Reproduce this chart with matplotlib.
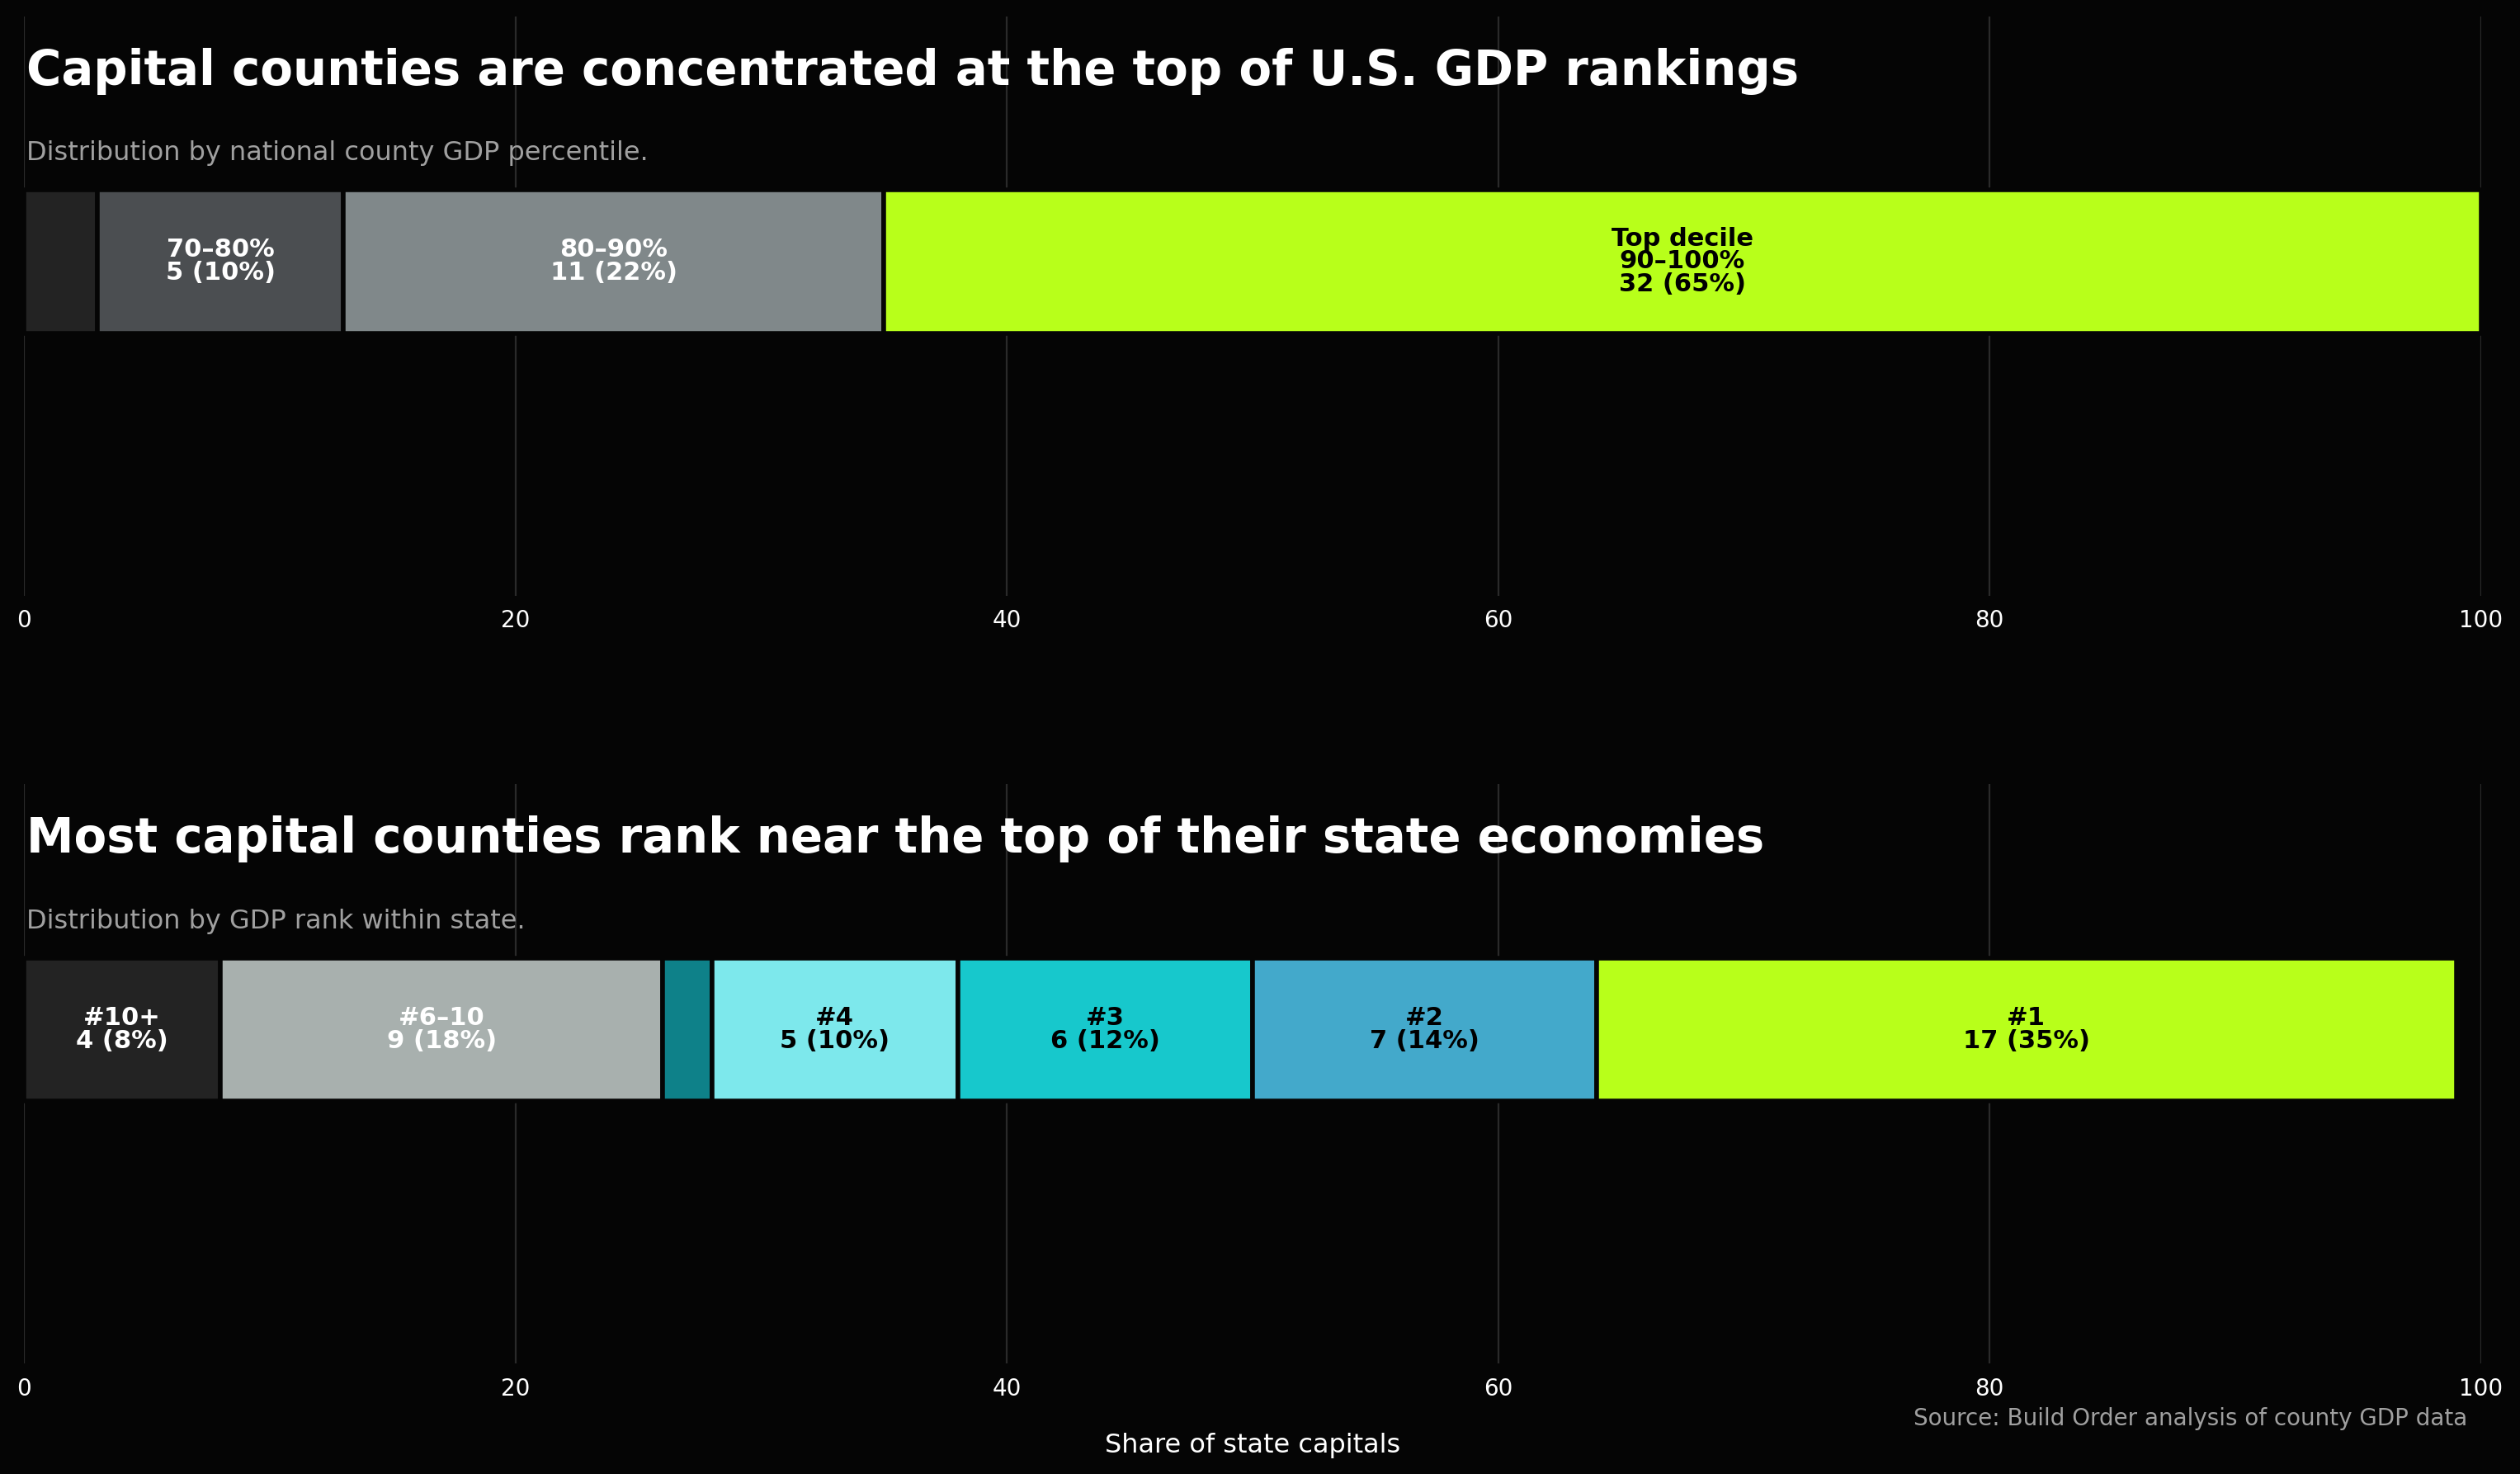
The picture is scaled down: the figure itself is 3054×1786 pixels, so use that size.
import matplotlib.pyplot as plt

# top panel: national county GDP percentile (rounded shares, %)
top_pcts = [3, 10, 22, 65]
top_labels = ["", "70–80%\n5 (10%)", "80–90%\n11 (22%)", "Top decile\n90–100%\n32 (65%)"]
top_colors = ["#232323", "#4b4e51", "#80888a", "#b8ff1a"]
top_text = ["white", "white", "white", "black"]

# bottom panel: GDP rank within state (rounded shares, %)
bot_pcts = [8, 18, 2, 10, 12, 14, 35]
bot_labels = ["#10+\n4 (8%)", "#6–10\n9 (18%)", "", "#4\n5 (10%)", "#3\n6 (12%)", "#2\n7 (14%)", "#1\n17 (35%)"]
bot_colors = ["#232323", "#a8b0ae", "#0e8189", "#7de8ec", "#17c8cc", "#43a9cb", "#b8ff1a"]
bot_text = ["white", "white", "white", "black", "black", "black", "black"]

bg = "#050505"

fig = plt.figure(figsize=(15.27, 8.93), dpi=200, facecolor=bg)
ax1 = fig.add_axes([0.0095, 0.596, 0.975, 0.393])
ax2 = fig.add_axes([0.0095, 0.075, 0.975, 0.393])


def draw(ax, pcts, labels, colors, tcolors, title, subtitle):
    ax.set_facecolor(bg)
    left = 0
    for w, lab, col, tc in zip(pcts, labels, colors, tcolors):
        ax.barh(0, w, left=left, height=1, color=col, edgecolor=bg, linewidth=2, zorder=3)
        if lab:
            ax.text(left + w / 2, 0.0, lab, ha="center", va="center", color=tc,
                    fontsize=11, fontweight="bold", linespacing=0.95, zorder=4)
        left += w
    ax.set_xlim(0, 100)
    ax.set_ylim(3.05 - 0.715, -1.715)
    ax.set_yticks([])
    for s in ax.spines.values():
        s.set_visible(False)
    ax.grid(axis="x", color="#444444", linewidth=0.8, alpha=0.6, zorder=0)
    ax.tick_params(axis="x", colors="white", labelsize=10, length=0, pad=6)
    ax.set_xticks([0, 20, 40, 60, 80, 100])
    ax.text(0.001, 0.905, title, transform=ax.transAxes, color="white", fontsize=20.8,
            fontweight="bold", va="center")
    ax.text(0.001, 0.763, subtitle, transform=ax.transAxes, color="#a0a0a0", fontsize=11.5,
            va="center")


draw(ax1, top_pcts, top_labels, top_colors, top_text,
     "Capital counties are concentrated at the top of U.S. GDP rankings",
     "Distribution by national county GDP percentile.")
draw(ax2, bot_pcts, bot_labels, bot_colors, bot_text,
     "Most capital counties rank near the top of their state economies",
     "Distribution by GDP rank within state.")

ax2.set_xlabel("Share of state capitals", color="white", fontsize=11.5, labelpad=14)
fig.text(0.979, 0.033, "Source: Build Order analysis of county GDP data", ha="right",
         color="#a0a0a0", fontsize=10)

fig.savefig("out.png", facecolor=bg)
